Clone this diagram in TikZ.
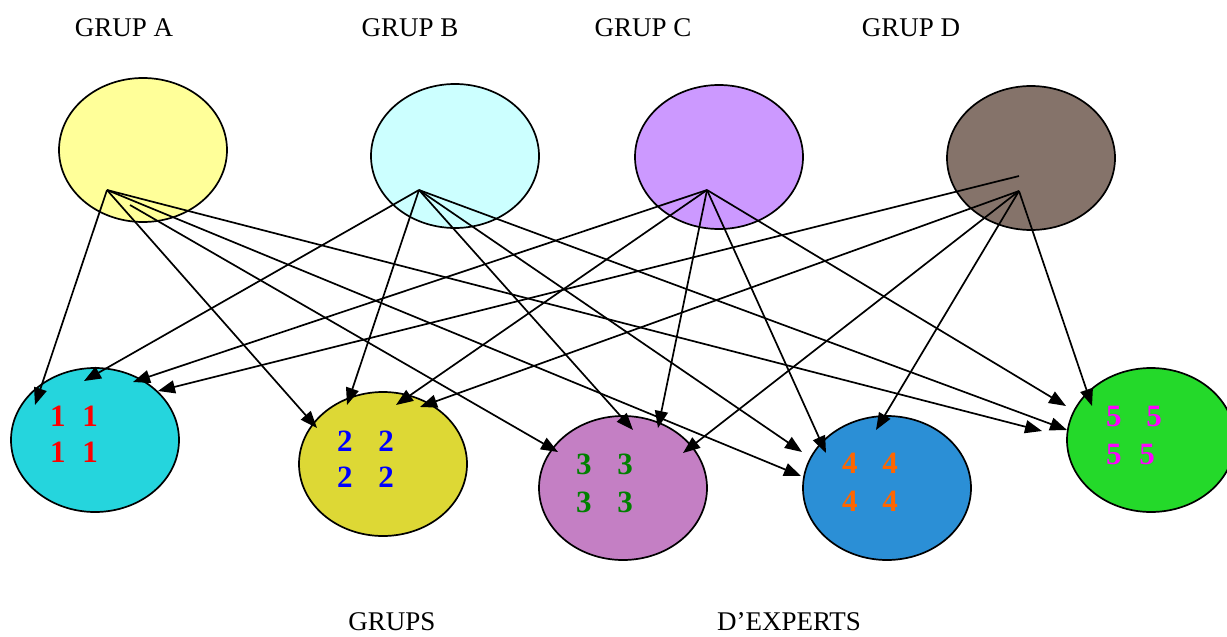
\documentclass[tikz,border=0pt]{standalone}
\usepackage{fontspec}
\setmainfont{Liberation Serif}
\usetikzlibrary{arrows.meta,shapes.geometric}
\definecolor{cA}{HTML}{FFFF99}
\definecolor{cB}{HTML}{CCFFFF}
\definecolor{cC}{HTML}{CC99FF}
\definecolor{cD}{HTML}{85736A}
\definecolor{c1}{HTML}{25D5DD}
\definecolor{c2}{HTML}{DDD835}
\definecolor{c3}{HTML}{C47FC4}
\definecolor{c4}{HTML}{2B8FD6}
\definecolor{c5}{HTML}{24D92A}
\definecolor{t3}{HTML}{008000}
\definecolor{t4}{HTML}{FF6600}
\definecolor{t5}{HTML}{FF00FF}
\begin{document}
\begin{tikzpicture}[x=1pt,y=-1pt,
  grp/.style={ellipse,draw=black,line width=1.7pt,minimum width=168pt,minimum height=144pt,inner sep=0pt},
  lbl/.style={font=\fontsize{27}{30}\selectfont,inner sep=0pt},
  num/.style={font=\fontsize{31}{33}\selectfont\bfseries,inner sep=0pt},
  arr/.style={-{Triangle[length=17pt,width=13pt]},line width=1.7pt}]
\useasboundingbox (0,0) rectangle (1227,637);
% group labels
\node[lbl] (lA) at (124,28) {GRUP A};
\node[lbl] (lB) at (410,28) {GRUP B};
\node[lbl] (lC) at (643,28) {GRUP C};
\node[lbl] (lD) at (911,28) {GRUP D};
\node[lbl] (lG) at (392,622) {GRUPS};
\node[lbl] (lE) at (789,622) {D’EXPERTS};
% ellipses
\node[grp,fill=cA] (A) at (143,150) {};
\node[grp,fill=cB] (B) at (455,156) {};
\node[grp,fill=cC] (C) at (719,157) {};
\node[grp,fill=cD] (D) at (1031,158) {};
\node[grp,fill=c1] (E1) at (95,440) {};
\node[grp,fill=c2] (E2) at (383,464) {};
\node[grp,fill=c3] (E3) at (623,488) {};
\node[grp,fill=c4] (E4) at (887,488) {};
\node[grp,fill=c5] (E5) at (1151,440) {};
% start points
\coordinate (a0) at (107,190);
\coordinate (a1) at (130,205);
\coordinate (b0) at (419,190);
\coordinate (c0) at (707,190);
\coordinate (d0) at (1019,191);
\coordinate (d1) at (1019,176);
% tips
\coordinate (a1t) at (35,405);
\coordinate (a2t) at (317,428);
\coordinate (a3t) at (558,452);
\coordinate (a4t) at (801,476);
\coordinate (a5t) at (1042,431);
\coordinate (b1t) at (84,381);
\coordinate (b2t) at (347,405);
\coordinate (b3t) at (633,430);
\coordinate (b4t) at (802,452);
\coordinate (b5t) at (1067,430);
\coordinate (c1t) at (133,382);
\coordinate (c2t) at (396,405);
\coordinate (c3t) at (658,428);
\coordinate (c4t) at (826,453);
\coordinate (c5t) at (1066,406);
\coordinate (d1t) at (158,391);
\coordinate (d2t) at (420,407);
\coordinate (d3t) at (683,453);
\coordinate (d4t) at (876,430);
\coordinate (d5t) at (1092,406);
% arrows
\draw[arr] (a0) -- (a1t);
\draw[arr] (a0) -- (a2t);
\draw[arr] (a1) -- (a3t);
\draw[arr] (a0) -- (a4t);
\draw[arr] (a0) -- (a5t);
\draw[arr] (b0) -- (b1t);
\draw[arr] (b0) -- (b2t);
\draw[arr] (b0) -- (b3t);
\draw[arr] (b0) -- (b4t);
\draw[arr] (b0) -- (b5t);
\draw[arr] (c0) -- (c1t);
\draw[arr] (c0) -- (c2t);
\draw[arr] (c0) -- (c3t);
\draw[arr] (c0) -- (c4t);
\draw[arr] (c0) -- (c5t);
\draw[arr] (d1) -- (d1t);
\draw[arr] (d0) -- (d2t);
\draw[arr] (d0) -- (d3t);
\draw[arr] (d0) -- (d4t);
\draw[arr] (d0) -- (d5t);
% numbers
\node[num,text=red] (n1a) at (74,416) {1\hspace{17pt}1};
\node[num,text=red] (n1b) at (74,452) {1\hspace{17pt}1};
\node[num,text=blue] (n2a) at (365.5,441) {2\hspace{26pt}2};
\node[num,text=blue] (n2b) at (365.5,477) {2\hspace{26pt}2};
\node[num,text=t3] (n3a) at (604.5,464) {3\hspace{26pt}3};
\node[num,text=t3] (n3b) at (604.5,502) {3\hspace{26pt}3};
\node[num,text=t4] (n4a) at (870,463) {4\hspace{25pt}4};
\node[num,text=t4] (n4b) at (870,501) {4\hspace{25pt}4};
\node[num,text=t5] (n5a) at (1134,416) {5\hspace{25pt}5};
\node[num,text=t5] (n5b) at (1130.5,454) {5\hspace{18pt}5};
\end{tikzpicture}
\end{document}
